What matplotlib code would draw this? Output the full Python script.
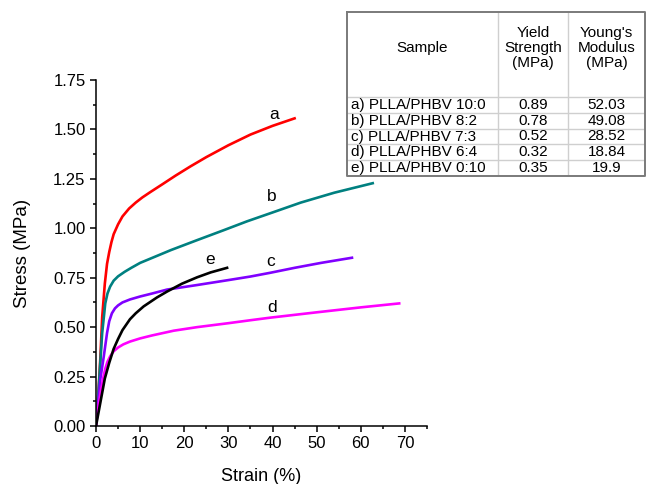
import matplotlib.pyplot as plt
from matplotlib.ticker import MultipleLocator, FormatStrFormatter

plt.rcParams["font.family"] = ["Liberation Sans", "DejaVu Sans"]

# Stress-strain curves
strain_a = [0, 0.5, 1.0, 1.4, 2.0, 2.5, 3.0, 3.5, 4.0, 5.0, 6.0, 7.5, 9.0, 10.5, 12.3,
            15.0, 18.0, 21.4, 25.0, 30.0, 35.0, 40.0, 45.0]
stress_a = [0, 0.15, 0.35, 0.55, 0.72, 0.82, 0.88, 0.93, 0.97, 1.02, 1.06, 1.10, 1.13, 1.156, 1.183,
            1.222, 1.266, 1.313, 1.36, 1.42, 1.474, 1.518, 1.556]

strain_b = [0, 0.5, 1.0, 1.4, 2.1, 2.6, 3.2, 4.0, 5.0, 6.5, 8.0, 10.0, 12.7, 17.0, 22.9,
            28.9, 34.2, 40.0, 46.4, 54.0, 62.7]
stress_b = [0, 0.15, 0.33, 0.47, 0.62, 0.67, 0.705, 0.735, 0.757, 0.78, 0.80, 0.825, 0.85, 0.89, 0.94,
            0.99, 1.035, 1.08, 1.13, 1.18, 1.228]

strain_c = [0, 0.5, 1.0, 1.75, 2.5, 3.0, 3.6, 4.3, 5.0, 6.0, 7.7, 10.0, 12.7, 16.1, 22.9,
            30.0, 35.0, 39.5, 45.0, 51.0, 58.0]
stress_c = [0, 0.12, 0.24, 0.35, 0.47, 0.53, 0.57, 0.595, 0.61, 0.625, 0.64, 0.655, 0.67, 0.69, 0.713,
            0.738, 0.756, 0.775, 0.80, 0.825, 0.851]

strain_d = [0, 0.5, 1.0, 1.7, 2.1, 2.6, 3.2, 4.0, 5.0, 6.2, 7.7, 10.0, 12.7, 17.6, 22.9,
            30.0, 35.0, 39.5, 50.0, 60.0, 68.7]
stress_d = [0, 0.09, 0.165, 0.25, 0.29, 0.325, 0.352, 0.378, 0.397, 0.413, 0.427, 0.443, 0.458, 0.482, 0.50,
            0.52, 0.535, 0.548, 0.575, 0.60, 0.62]

strain_e = [0, 0.5, 1.0, 1.5, 2.0, 3.0, 4.0, 5.0, 6.0, 7.7, 9.0, 10.8, 13.8, 16.1, 19.5,
            22.9, 26.0, 29.7]
stress_e = [0, 0.06, 0.12, 0.18, 0.24, 0.32, 0.39, 0.44, 0.485, 0.54, 0.57, 0.605, 0.65, 0.68, 0.72,
            0.752, 0.777, 0.80]

# curve letters and where they sit (data coords)
curve_names = ["a", "b", "c", "d", "e"]
label_x = [40.3, 39.9, 39.5, 39.9, 25.9]
label_y = [1.575, 1.16, 0.83, 0.60, 0.84]

# table contents
table_header = ["Sample", "Yield\nStrength\n(MPa)", "Young's\nModulus\n(MPa)"]
samples = ["a) PLLA/PHBV 10:0", "b) PLLA/PHBV 8:2", "c) PLLA/PHBV 7:3",
           "d) PLLA/PHBV 6:4", "e) PLLA/PHBV 0:10"]
yield_strength = ["0.89", "0.78", "0.52", "0.32", "0.35"]
youngs_modulus = ["52.03", "49.08", "28.52", "18.84", "19.9"]

colors = ["#ff0000", "#008080", "#8000ff", "#ff00ff", "#000000"]

fig = plt.figure(figsize=(6.48, 4.84), dpi=100)
ax = fig.add_axes([96 / 648, 1 - 426 / 484, 331 / 648, 346 / 484])

curves = [(strain_a, stress_a), (strain_b, stress_b), (strain_c, stress_c),
          (strain_d, stress_d), (strain_e, stress_e)]
for (xs, ys), c in zip(curves, colors):
    ax.plot(xs, ys, color=c, linewidth=1.9, solid_joinstyle="round")

for name, lx, ly in zip(curve_names, label_x, label_y):
    ax.text(lx, ly, name, fontsize=12.5, ha="center", va="center")

ax.set_xlim(0, 75)
ax.set_ylim(0, 1.75)
ax.xaxis.set_major_locator(MultipleLocator(10))
ax.xaxis.set_minor_locator(MultipleLocator(5))
ax.yaxis.set_major_locator(MultipleLocator(0.25))
ax.yaxis.set_minor_locator(MultipleLocator(0.125))
ax.yaxis.set_major_formatter(FormatStrFormatter("%.2f"))
ax.spines["top"].set_visible(False)
ax.spines["right"].set_visible(False)
for s in ["left", "bottom"]:
    ax.spines[s].set_linewidth(1.1)
ax.tick_params(which="major", direction="out", length=4, width=1.1, labelsize=12)
ax.tick_params(which="minor", direction="out", length=2.5, width=1.1)

ax.set_xlabel("Strain (%)", fontsize=13)
ax.set_ylabel("Stress (MPa)", fontsize=13.5)
ax.xaxis.set_label_coords(0.5, -0.122)
ax.yaxis.set_label_coords(-0.195, 0.5)

# table drawn by hand in pixel units
tab = fig.add_axes([347 / 648, 1 - 176 / 484, 298 / 648, 164 / 484])
tab.set_xlim(0, 298)
tab.set_ylim(164, 0)
tab.axis("off")
col_edges = [0, 151, 221, 298]
header_h = 85
row_h = (164 - header_h) / len(samples)

light = "#cfcfcf"
for xe in col_edges[1:-1]:
    tab.plot([xe, xe], [0, 164], color=light, linewidth=1)
for i in range(len(samples)):
    yy = header_h + i * row_h
    tab.plot([0, 298], [yy, yy], color=light, linewidth=1)
tab.plot([0, 298, 298, 0, 0], [0, 0, 164, 164, 0], color="#7a7a7a", linewidth=1.4,
         clip_on=False)

centers = [(col_edges[i] + col_edges[i + 1]) / 2 for i in range(3)]
for cx, h in zip(centers, table_header):
    tab.text(cx, 36, h, fontsize=11, ha="center", va="center", linespacing=1.08)
for i in range(len(samples)):
    cy = header_h + (i + 0.5) * row_h
    tab.text(4, cy, samples[i], fontsize=11, ha="left", va="center")
    tab.text(centers[1], cy, yield_strength[i], fontsize=11, ha="center", va="center")
    tab.text(centers[2], cy, youngs_modulus[i], fontsize=11, ha="center", va="center")

fig.savefig("out.png", dpi=100, facecolor="white")
